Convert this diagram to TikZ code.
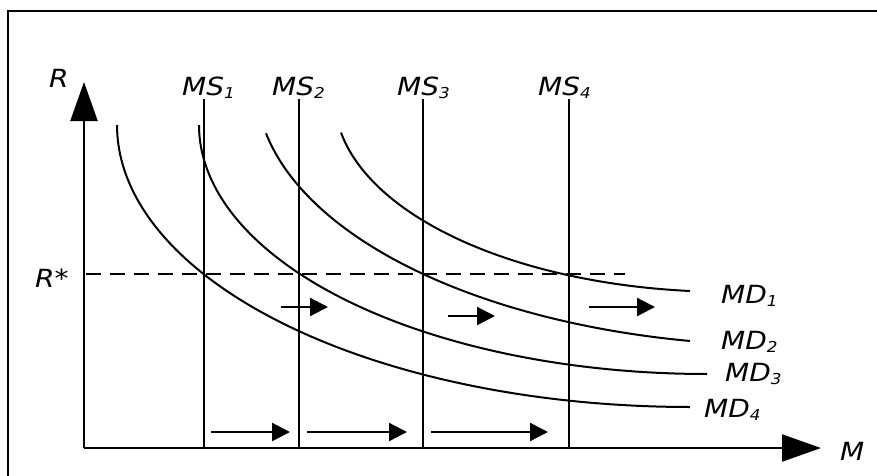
\documentclass[tikz,border=0pt]{standalone}
\usepackage{fontspec}
\setmainfont{DejaVu Sans}
\newfontfamily\lblfont{DejaVu Sans Oblique}[FakeStretch=1.12]
\usetikzlibrary{arrows.meta}
\newcommand\lbsub[1]{\raisebox{-3.5pt}{\fontsize{15}{15}\selectfont #1}}
\begin{document}
\begin{tikzpicture}[x=1pt,y=-1pt,
  lbl/.style={inner sep=0pt,anchor=base west,font=\lblfont\fontsize{25}{25}\selectfont},
  axisline/.style={line width=2.2pt,-{Triangle[length=39pt,width=27pt]}},
  supply/.style={line width=1.8pt},
  demand/.style={line width=2pt},
  shiftarrow/.style={line width=2.3pt,-{Triangle[length=18pt,width=18pt]}},
  frameline/.style={line width=2pt},
  level/.style={line width=2pt,dash pattern=on 15pt off 9pt}]
\useasboundingbox (0,0) rectangle (877,475);
% frame
\draw[frameline] (8,478) -- (8,11) -- (880,11);
% axes
\coordinate (O) at (84,448);
\coordinate (Rtip) at (84,82);
\coordinate (Mtip) at (821,448);
\draw[axisline] (O) -- (Rtip);
\draw[axisline] (O) -- (Mtip);
\node[lbl] (R) at (49,87) {R};
\node[lbl] (M) at (840,460) {M};
% supply lines
\foreach \i/\x/\lx in {1/204/182,2/299/272,3/423/397,4/569/538}{
  \coordinate (ms\i top) at (\x,99);
  \coordinate (ms\i bot) at (\x,448);
  \draw[supply] (ms\i top) -- (ms\i bot);
  \node[lbl] (ms\i) at (\lx,95) {MS\lbsub{\i}};
}
% R* level
\coordinate (rs0) at (86,274);
\coordinate (rs1) at (625,274);
\draw[level] (rs0) -- (rs1);
\node[lbl] (Rstar) at (35,287) {R*};
% demand curves (elliptic arcs)
\draw[demand] plot[domain=0:90,samples=90] ({690-573*cos(\x)},{125+282*sin(\x)});
\draw[demand] plot[domain=0:90,samples=90] ({707-508*cos(\x)},{125+249*sin(\x)});
\draw[demand] plot[domain=10.95:79.36,samples=80] ({788.2-531.9*cos(\x)},{83.5+262*sin(\x)});
\draw[demand] plot[domain=10.2:84.48,samples=80] ({727.8-393*cos(\x)},{98.3+193.6*sin(\x)});
\node[lbl] (md1) at (721,303) {MD\lbsub{1}};
\node[lbl] (md2) at (721,349) {MD\lbsub{2}};
\node[lbl] (md3) at (725,381) {MD\lbsub{3}};
\node[lbl] (md4) at (704,417) {MD\lbsub{4}};
% shift arrows (middle)
\coordinate (a1s) at (281,307); \coordinate (a1e) at (328,307);
\coordinate (a2s) at (448,316); \coordinate (a2e) at (495,316);
\coordinate (a3s) at (589,307); \coordinate (a3e) at (655,307);
\draw[shiftarrow] (a1s) -- (a1e);
\draw[shiftarrow] (a2s) -- (a2e);
\draw[shiftarrow] (a3s) -- (a3e);
% shift arrows (bottom)
\coordinate (b1s) at (211,432); \coordinate (b1e) at (290,432);
\coordinate (b2s) at (307,432); \coordinate (b2e) at (407,432);
\coordinate (b3s) at (431,432); \coordinate (b3e) at (548,432);
\draw[shiftarrow] (b1s) -- (b1e);
\draw[shiftarrow] (b2s) -- (b2e);
\draw[shiftarrow] (b3s) -- (b3e);
\end{tikzpicture}
\end{document}
